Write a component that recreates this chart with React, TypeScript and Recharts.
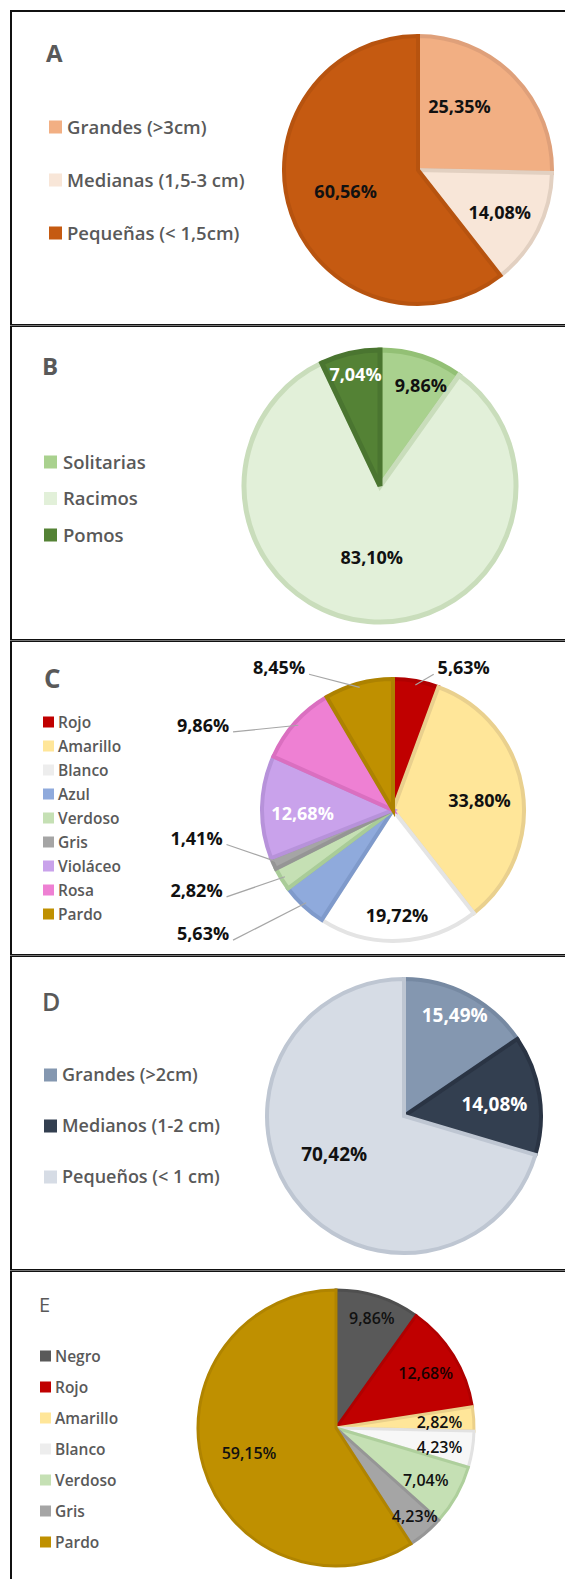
import React from "react";
import { PieChart, Pie, Cell } from "recharts";

// ---------- DATA ----------
const catA = ["Grandes (>3cm)", "Medianas (1,5-3 cm)", "Pequeñas (< 1,5cm)"];
const valA = [25.35, 14.08, 60.56];

const catB = ["Solitarias", "Racimos", "Pomos"];
const valB = [9.86, 83.1, 7.04];

const catC = ["Rojo", "Amarillo", "Blanco", "Azul", "Verdoso", "Gris", "Violáceo", "Rosa", "Pardo"];
const valC = [5.63, 33.8, 19.72, 5.63, 2.82, 1.41, 12.68, 9.86, 8.45];

const catD = ["Grandes (>2cm)", "Medianos (1-2 cm)", "Pequeños (< 1 cm)"];
const valD = [15.49, 14.08, 70.42];

const catE = ["Negro", "Rojo", "Amarillo", "Blanco", "Verdoso", "Gris", "Pardo"];
const valE = [9.86, 12.68, 2.82, 4.23, 7.04, 4.23, 59.15];

const panelTitles = ["A", "B", "C", "D", "E"];

// ---------- STYLES ----------
const FONT = "'Open Sans', Lato, 'DejaVu Sans', sans-serif";
const GRAY = "#595959";

const fillA = ["#F2AF83", "#F8E6D8", "#C55A11"];
const strokeA = ["#DFA07A", "#E2D0C1", "#B7530F"];
const fillB = ["#A9D18E", "#E2F0D9", "#548235"];
const strokeB = ["#93C075", "#C9DDBB", "#4A7530"];
const fillC = ["#C00000", "#FFE699", "#FFFFFF", "#8FAADC", "#C5E0B4", "#A5A5A5", "#C9A2EB", "#EE80D3", "#BF9000"];
const strokeC = ["#B00000", "#E9D08E", "#E4E4E4", "#7F9ACB", "#A9CC98", "#959595", "#B792DA", "#DA6FC0", "#AD8200"];
const legendC = ["#C00000", "#FFE699", "#EDEDED", "#8FAADC", "#C5E0B4", "#A5A5A5", "#C9A2EB", "#EE80D3", "#BF9000"];
const fillD = ["#8497B0", "#333F50", "#D6DCE5"];
const strokeD = ["#7689A2", "#2A3444", "#BEC6D2"];
const fillE = ["#595959", "#C00000", "#FFE699", "#F7F7F7", "#C5E0B4", "#A5A5A5", "#BF9000"];
const strokeE = ["#4F4F4F", "#B00000", "#EBD08A", "#E2E2E2", "#AECF9C", "#969696", "#B08400"];
const legendE = ["#595959", "#C00000", "#FFE699", "#EDEDED", "#C5E0B4", "#A5A5A5", "#BF9000"];

// label placement, in units of the pie radius relative to its centre
const lblA = [[0.31, -0.48], [0.61, 0.31], [-0.54, 0.16]];
const lblB = [[0.30, -0.74], [-0.06, 0.52], [-0.18, -0.82]];
const lblC = [[0.54, -1.09], [0.66, -0.08], [0.03, 0.8], [-1.45, 0.94], [-1.5, 0.61], [-1.5, 0.21], [-0.69, 0.02], [-1.45, -0.65], [-0.87, -1.09]];
const leadC = [true, false, false, true, true, true, false, true, true];
const lblD = [[0.37, -0.74], [0.66, -0.09], [-0.51, 0.28]];
const lblE = [[0.26, -0.8], [0.65, -0.4], [0.75, -0.04], [0.75, 0.14], [0.65, 0.38], [0.57, 0.64], [-0.63, 0.18]];

const txtA = ["#111", "#111", "#111"];
const txtB = ["#111", "#111", "#fff"];
const txtC = ["#111", "#111", "#111", "#111", "#111", "#111", "#fff", "#111", "#111"];
const txtD = ["#fff", "#fff", "#111"];
const txtE = ["#111", "#1a0000", "#111", "#111", "#111", "#111", "#111"];

const fmt = (v: number) => v.toFixed(2).replace(".", ",") + "%";
const RAD = Math.PI / 180;

function makeLabel(vals: number[], offs: number[][], colors: string[], fs: number, weight: number, leaders?: boolean[]) {
  return (p: any) => {
    const { cx, cy, midAngle, outerRadius, index } = p;
    const [dx, dy] = offs[index];
    const x = cx + dx * outerRadius;
    const y = cy + dy * outerRadius;
    let line = null;
    if (leaders && leaders[index]) {
      const ex = cx + outerRadius * 0.97 * Math.cos(-midAngle * RAD);
      const ey = cy + outerRadius * 0.97 * Math.sin(-midAngle * RAD);
      const sx = x < cx ? x + 30 : x - 30;
      const sy = y + 7;
      line = <polyline points={`${sx},${sy} ${ex},${ey}`} stroke="#A6A6A6" strokeWidth={1.2} fill="none" />;
    }
    return (
      <g key={`lbl-${index}`}>
        {line}
        <text x={x} y={y} textAnchor="middle" dominantBaseline="central" fill={colors[index]}
          fontFamily={FONT} fontSize={fs} fontWeight={weight}>
          {fmt(vals[index])}
        </text>
      </g>
    );
  };
}

type PanelProps = {
  top: number; height: number; cats: string[]; vals: number[]; fills: string[]; strokes: string[];
  cx: number; cy: number; r: number; sw: number; label: any;
};

function PiePanel({ top, height, cats, vals, fills, strokes, cx, cy, r, sw, label }: PanelProps) {
  const data = cats.map((name, i) => ({ name, value: vals[i] }));
  return (
    <div style={{ position: "absolute", left: 0, top, width: 565, height }}>
      <PieChart width={565} height={height} margin={{ top: 0, right: 0, bottom: 0, left: 0 }}>
        <Pie data={data} dataKey="value" nameKey="name" cx={cx} cy={cy} outerRadius={r}
          startAngle={90} endAngle={-270} isAnimationActive={false} label={label} labelLine={false}>
          {data.map((d, i) => (
            <Cell key={d.name} fill={fills[i]} stroke={strokes[i]} strokeWidth={sw} />
          ))}
        </Pie>
      </PieChart>
    </div>
  );
}

function LegendBlock({ cats, colors, sqX, sq, txX, y0, step, fs }: any) {
  return (
    <g>
      {cats.map((c: string, i: number) => {
        const y = y0 + step * i;
        return (
          <g key={c}>
            <rect x={sqX} y={y - sq / 2} width={sq} height={sq} fill={colors[i]} />
            <text x={txX} y={y + fs * 0.36} fontFamily={FONT} fontSize={fs} fontWeight={600} fill={GRAY}>{c}</text>
          </g>
        );
      })}
    </g>
  );
}

export default function App() {
  const seps = [324, 639, 954, 1269];
  return (
    <div style={{ position: "absolute", left: 0, top: 0, width: 565, height: 1579, background: "#fff", overflow: "hidden" }}>
      <PiePanel top={0} height={324} cats={catA} vals={valA} fills={fillA} strokes={strokeA}
        cx={418} cy={170} r={134} sw={4} label={makeLabel(valA, lblA, txtA, 18, 700)} />
      <PiePanel top={325} height={314} cats={catB} vals={valB} fills={fillB} strokes={strokeB}
        cx={380} cy={161} r={136} sw={5} label={makeLabel(valB, lblB, txtB, 18, 700)} />
      <PiePanel top={640} height={314} cats={catC} vals={valC} fills={fillC} strokes={strokeC}
        cx={393} cy={170} r={131} sw={4} label={makeLabel(valC, lblC, txtC, 18, 700, leadC)} />
      <PiePanel top={955} height={314} cats={catD} vals={valD} fills={fillD} strokes={strokeD}
        cx={404} cy={161} r={137} sw={4} label={makeLabel(valD, lblD, txtD, 19, 700)} />
      <PiePanel top={1270} height={309} cats={catE} vals={valE} fills={fillE} strokes={strokeE}
        cx={336} cy={158} r={138} sw={3} label={makeLabel(valE, lblE, txtE, 16, 600)} />

      <svg width={565} height={1579} style={{ position: "absolute", left: 0, top: 0, pointerEvents: "none" }}>
        <rect x={10} y={10} width={555} height={2} fill="#111" />
        <rect x={10} y={10} width={2} height={1569} fill="#111" />
        {seps.map((s) => (
          <g key={s}>
            <rect x={10} y={s} width={555} height={1} fill="#111" />
            <rect x={10} y={s + 1} width={555} height={1} fill="#777" />
            <rect x={10} y={s + 2} width={555} height={1} fill="#111" />
          </g>
        ))}
        {/* titles */}
        <text x={46} y={62} fontFamily={FONT} fontSize={24} fontWeight={700} fill={GRAY}>{panelTitles[0]}</text>
        <text x={42} y={375} fontFamily={FONT} fontSize={24} fontWeight={700} fill={GRAY}>{panelTitles[1]}</text>
        <text x={44} y={688} fontFamily={FONT} fontSize={26} fontWeight={700} fill={GRAY}>{panelTitles[2]}</text>
        <text x={42} y={1011} fontFamily={FONT} fontSize={25} fontWeight={600} fill={GRAY}>{panelTitles[3]}</text>
        <text x={39} y={1312} fontFamily={FONT} fontSize={20} fontWeight={400} fill={GRAY}>{panelTitles[4]}</text>

        <LegendBlock cats={catA} colors={fillA} sqX={49} sq={13} txX={67} y0={127} step={53} fs={18.5} />
        <LegendBlock cats={catB} colors={fillB} sqX={44} sq={13} txX={63} y0={462} step={36.5} fs={18.5} />
        <LegendBlock cats={catC} colors={legendC} sqX={43} sq={11} txX={58} y0={722} step={24} fs={15.5} />
        <LegendBlock cats={catD} colors={fillD} sqX={44} sq={13} txX={62} y0={1075} step={51} fs={18} />
        <LegendBlock cats={catE} colors={legendE} sqX={40} sq={11} txX={55} y0={1356} step={31} fs={15.5} />
      </svg>
    </div>
  );
}
